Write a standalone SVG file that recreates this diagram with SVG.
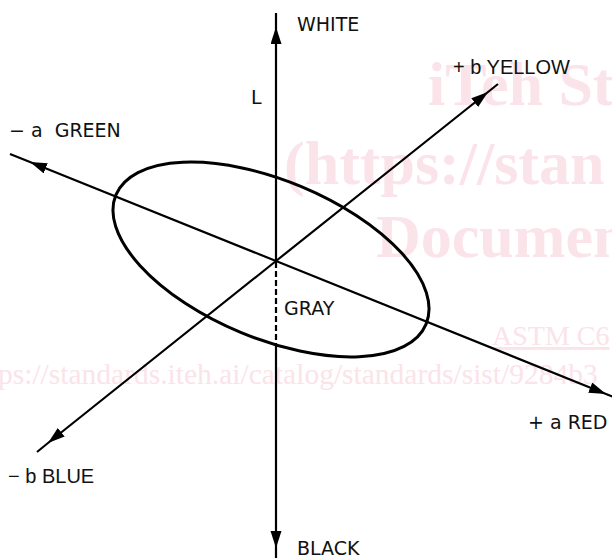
<svg xmlns="http://www.w3.org/2000/svg" width="612" height="560" viewBox="0 0 612 560">
  <style>
    .wm { fill: #fbe3ea; font-family: "Liberation Serif", "Times New Roman", serif; }
    .wmb { font-weight: bold; font-size: 62px; }
    .ax { stroke: #000; stroke-width: 2.2; fill: none; }
    .lbl { fill: #111; font-family: "DejaVu Sans", Verdana, sans-serif; font-size: 19px; }
    .lbl2 { fill: #111; font-family: "Liberation Sans", Arial, sans-serif; font-size: 20px; }
  </style>
  <defs>
    <marker id="arr" markerUnits="userSpaceOnUse" markerWidth="18" markerHeight="12" refX="17" refY="5.5" orient="auto">
      <path d="M0,0 L17,5.5 L0,11 z" fill="#000"/>
    </marker>
  </defs>
  <rect width="612" height="560" fill="#fff"/>

  <g id="watermark">
    <text class="wm wmb" x="428" y="105">iTeh St</text>
    <text class="wm wmb" x="284" y="184">(https://stan</text>
    <text class="wm wmb" x="376" y="257">Documen</text>
    <text class="wm" x="492" y="345" font-size="28" text-decoration="underline">ASTM C6</text>
    <text class="wm" x="-2" y="384" font-size="29.5">ps://standards.iteh.ai/catalog/standards/sist/9284b3</text>
  </g>

  <g id="gamut-ellipse">
    <ellipse cx="271" cy="259.5" rx="168" ry="79" transform="rotate(22.6 271 259.5)" fill="none" stroke="#000" stroke-width="3"/>
  </g>

  <g id="connectors">
    <path id="axis-white" class="ax" d="M276,260 L276,27 L276,13" marker-mid="url(#arr)"/>
    <path id="axis-gray" class="ax" d="M276,262 L276,349" stroke-dasharray="6,3" stroke-width="2.5"/>
    <path id="axis-black" class="ax" d="M276,349 L276,548 L276,558" marker-mid="url(#arr)"/>
    <path id="axis-green" class="ax" d="M276,261 L30,162 L10,154" marker-mid="url(#arr)"/>
    <path id="axis-red" class="ax" d="M276,261 L606,394 L614,397.2" marker-mid="url(#arr)"/>
    <path id="axis-yellow" class="ax" d="M276,261 L488,92 L498,84" marker-mid="url(#arr)"/>
    <path id="axis-blue" class="ax" d="M276,261 L48,443 L37,452" marker-mid="url(#arr)"/>
  </g>

  <g id="label-white"><text class="lbl" x="297" y="31">WHITE</text></g>
  <g id="label-l"><text class="lbl" x="251" y="104">L</text></g>
  <g id="label-green"><text class="lbl" x="9" y="137" xml:space="preserve">− a  GREEN</text></g>
  <g id="label-yellow"><text class="lbl2" x="453" y="74">+ b YELLOW</text></g>
  <g id="label-gray"><text class="lbl" x="284" y="315">GRAY</text></g>
  <g id="label-red"><text class="lbl" x="528" y="429">+ a RED</text></g>
  <g id="label-blue"><text class="lbl2" x="8" y="483">− b BLUE</text></g>
  <g id="label-black"><text class="lbl" x="297" y="555">BLACK</text></g>
</svg>
